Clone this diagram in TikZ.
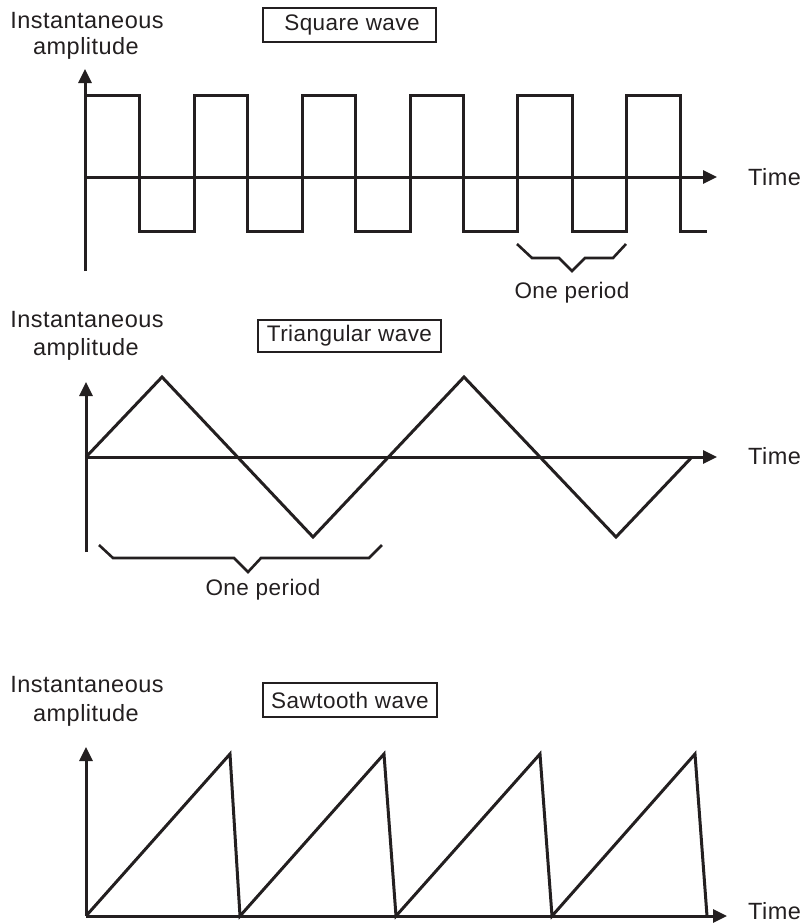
\documentclass[tikz,border=0pt]{standalone}
\usepackage{fontspec}
\setmainfont{Liberation Sans}[LetterSpace=2.0]
\usetikzlibrary{arrows.meta}
\definecolor{ink}{HTML}{231F20}
\begin{document}
\begin{tikzpicture}[x=1pt,y=-1pt,
  wave/.style={draw=ink,line width=3pt,line join=miter},
  axisline/.style={draw=ink,line width=3pt,-{Triangle[length=14pt,width=13pt]}},
  brace/.style={draw=ink,line width=2.6pt},
  lbl/.style={inner sep=0pt,text=ink,font=\fontsize{23.5}{26}\selectfont},
  lbls/.style={inner sep=0pt,text=ink,font=\fontsize{22.5}{26}\selectfont},
  titlebox/.style={draw=ink,line width=2.4pt,inner sep=0pt,text=ink,
    font=\fontsize{22.5}{26}\selectfont}]
\useasboundingbox (0,0) rectangle (809,924);

% ---------- Square wave ----------
\node[lbl,anchor=base] (sq1) at (87,28) {Instantaneous};
\node[lbl,anchor=base] (sq2) at (86,54) {amplitude};
\node[titlebox,minimum width=173pt,minimum height=34pt] (sqt) at (349.5,25) {\hspace*{5pt}Square wave};
\draw[axisline] (85,271) -- (85,69);
\draw[axisline] (85,177) -- (717,177);
\draw[wave] (85,95) -| (139,231) -| (194,95) -| (247,231) -| (302,95) -| (355,231)
  -| (410,95) -| (463,231) -| (517,95) -| (572,231) -| (626,95) -| (680,231) -- (707,231);
\draw[brace] (517,244) -- (532,258) -- (559,258) -- (572,271) -- (585,258) -- (613,258) -- (626,244);
\node[lbls,anchor=base] (sqp) at (572,298) {One period};
\node[lbl,anchor=base west] (sqtime) at (748,185) {Time};

% ---------- Triangular wave ----------
\node[lbl,anchor=base] (tr1) at (87,327) {Instantaneous};
\node[lbl,anchor=base] (tr2) at (86,355) {amplitude};
\node[titlebox,minimum width=183pt,minimum height=32pt] (trt) at (349.5,336) {Triangular wave};
\draw[axisline] (86,552) -- (86,382);
\draw[axisline] (86,457) -- (717,457);
\draw[wave] (86,457) -- (162,377) -- (313,537) -- (464,377) -- (616,537) -- (692,457);
\draw[brace] (99,545) -- (113,558) -- (234,558) -- (248,572) -- (261,558) -- (369,558) -- (382,545);
\node[lbls,anchor=base] (trp) at (263,595) {One period};
\node[lbl,anchor=base west] (trtime) at (748,464) {Time};

% ---------- Sawtooth wave ----------
\node[lbl,anchor=base] (sw1) at (87,692) {Instantaneous};
\node[lbl,anchor=base] (sw2) at (86,721) {amplitude};
\node[titlebox,minimum width=174pt,minimum height=34pt] (swt) at (350,700) {Sawtooth wave};
\draw[axisline] (86,916) -- (86,747);
\draw[axisline] (86,916) -- (727,916);
\draw[wave] (86,916) -- (230,754) -- (240,916) -- (384,754) -- (396,916) -- (540,754)
  -- (552,916) -- (695,754) -- (707,916);
\node[lbl,anchor=base west] (swtime) at (748,919) {Time};
\end{tikzpicture}
\end{document}
